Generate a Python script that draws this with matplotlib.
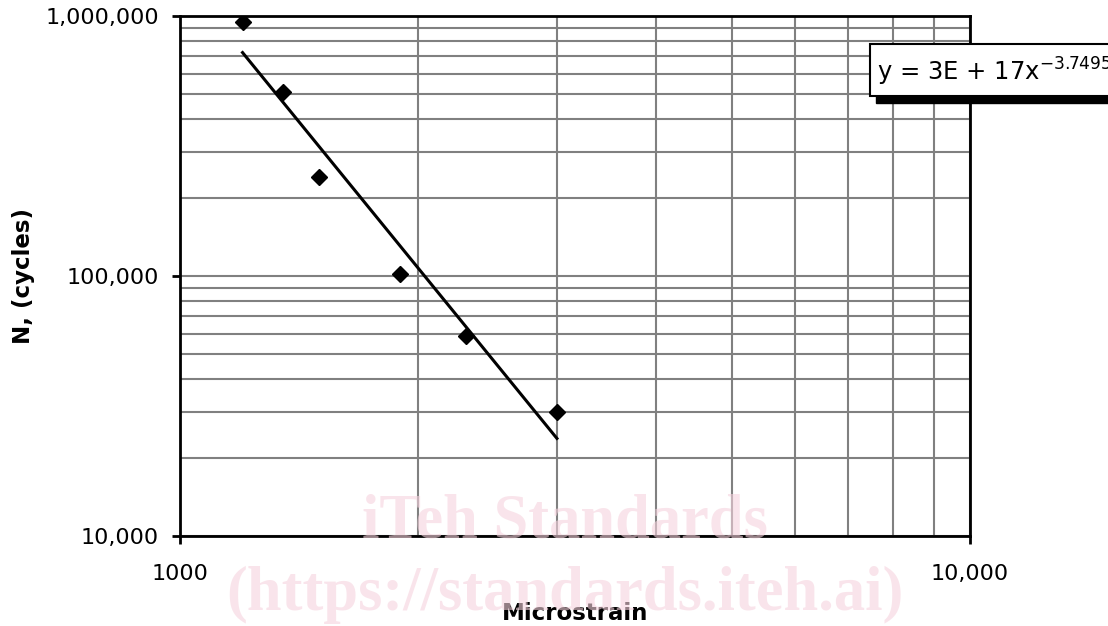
#!/usr/bin/env python3
import matplotlib
matplotlib.use('Agg')
import matplotlib.pyplot as plt
import numpy as np
from matplotlib.ticker import FixedLocator, FuncFormatter, LogLocator, NullFormatter

microstrain = [1200, 1350, 1500, 1900, 2300, 3000]
cycles = [950000, 510000, 240000, 102000, 59000, 30000]
fit_label = r'y = 3E + 17x$^{-3.7495}$'

fig = plt.figure(figsize=(11.08, 6.26), dpi=100)
ax = fig.add_axes([180/1108, 1 - 536/626, 790/1108, 520/626])

# power law trend line fitted in log space
k, b = np.polyfit(np.log10(microstrain), np.log10(cycles), 1)
xf = np.array([microstrain[0], microstrain[-1]])
ax.plot(xf, 10**(b + k*np.log10(xf)), color='black', lw=2.2, zorder=3)
ax.plot(microstrain, cycles, 'D', color='black', ms=8, zorder=4)

ax.set_xscale('log')
ax.set_yscale('log')
ax.set_xlim(1000, 10000)
ax.set_ylim(10000, 1000000)

ax.xaxis.set_major_locator(FixedLocator([1000, 10000]))
ax.xaxis.set_major_formatter(FuncFormatter(lambda v, p: '1000' if v < 5000 else '10,000'))
ax.xaxis.set_minor_locator(LogLocator(base=10, subs=np.arange(2, 10)))
ax.xaxis.set_minor_formatter(NullFormatter())
ax.yaxis.set_major_locator(FixedLocator([1e4, 1e5, 1e6]))
ax.yaxis.set_major_formatter(FuncFormatter(lambda v, p: f'{int(round(v)):,}'))
ax.yaxis.set_minor_locator(LogLocator(base=10, subs=np.arange(2, 10)))
ax.yaxis.set_minor_formatter(NullFormatter())

ax.grid(True, which='both', color='#808080', lw=1.5)
ax.set_axisbelow(True)
for s in ax.spines.values():
    s.set_linewidth(2)
    s.set_color('black')
ax.tick_params(which='major', length=6, width=2, direction='out', labelsize=16, pad=9)
ax.tick_params(axis='x', which='major', pad=14)
ax.tick_params(which='minor', length=0)
ax.tick_params(top=False, right=False)

ax.set_xlabel('Microstrain', fontsize=16.5, fontweight='bold', labelpad=13)
ax.set_ylabel('N, (cycles)', fontsize=16.5, fontweight='bold')
ax.yaxis.set_label_coords(-0.1835, 0.5)

# watermark
fig.text(565/1108, 1 - 522/626, 'iTeh Standards', fontsize=45, fontweight='bold',
         family='Liberation Serif', color='#f6d3de', ha='center', va='center', alpha=0.6)
fig.text(565/1108, 1 - 595/626, '(https://standards.iteh.ai)', fontsize=45, fontweight='bold',
         family='Liberation Serif', color='#f6d3de', ha='center', va='center', alpha=0.6)

# trendline label box with shadow
fig.patches.append(plt.Rectangle((876/1108, 1 - 103/626), 260/1108, 52/626,
                                 transform=fig.transFigure, color='black', zorder=5))
fig.patches.append(plt.Rectangle((870/1108, 1 - 96/626), 260/1108, 52/626,
                                 transform=fig.transFigure, facecolor='white',
                                 edgecolor='black', lw=1.5, zorder=6))
fig.text(877/1108, 1 - 72/626, fit_label, fontsize=17.5, ha='left', va='center', zorder=7)

fig.savefig('out.png', dpi=100)
